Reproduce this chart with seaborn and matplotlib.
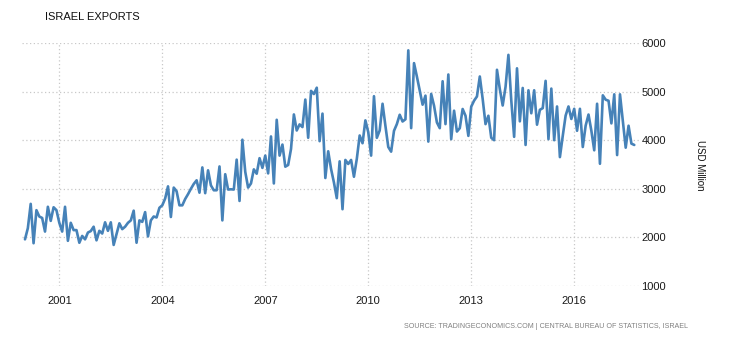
import matplotlib
matplotlib.use("Agg")
import matplotlib.pyplot as plt
import seaborn as sns
import pandas as pd
import numpy as np

# Monthly exports, USD million, Jan 2000 onwards
exports = [
    1960, 2190, 2690, 1880, 2560, 2430, 2400, 2120, 2630, 2340, 2620, 2560,
    2300, 2120, 2630, 1930, 2300, 2150, 2150, 1890, 2030, 1960, 2100, 2130,
    2220, 1940, 2135, 2080, 2310, 2135, 2310, 1845, 2070, 2290, 2170, 2220,
    2300, 2350, 2550, 1890, 2350, 2320, 2520, 2020, 2350, 2430, 2410, 2610,
    2660, 2800, 3050, 2420, 3025, 2950, 2660, 2660, 2790, 2890, 3000, 3100,
    3175, 2920, 3440, 2910, 3380, 3070, 2970, 2970, 3460, 2350, 3300, 2985,
    2990, 2985, 3600, 2750, 4010, 3350, 3025, 3110, 3400, 3310, 3630, 3430,
    3683, 3317, 4077, 3110, 4420, 3683, 3910, 3455, 3490, 3820, 4530, 4200,
    4325, 4270, 4836, 4050, 5015, 4950, 5080, 3980, 4547, 3222, 3772, 3408,
    3130, 2807, 3565, 2580, 3594, 3511, 3594, 3248, 3615, 4097, 3938, 4408,
    4166, 3683, 4905, 4049, 4200, 4750, 4296, 3861, 3764, 4193, 4331, 4524,
    4385, 4430, 5849, 4248, 5586, 5311, 5020, 4731, 4917, 3971, 4952, 4710,
    4365, 4248, 5213, 4331, 5352, 4021, 4607, 4178, 4248, 4642, 4503, 4089,
    4690, 4814, 4900, 5311, 4849, 4331, 4503, 4050, 4000, 5449, 5050, 4714,
    5100, 5756, 4819, 4069, 5479, 4388, 5075, 3902, 5027, 4554, 5027, 4319,
    4625, 4660, 5221, 4021, 5062, 4000, 4694, 3652, 4090, 4506, 4694, 4437,
    4646, 4194, 4646, 3860, 4300, 4528, 4194, 3792, 4750, 3515, 4923, 4833,
    4812, 4346, 4944, 3694, 4944, 4402, 3846, 4298, 3930, 3902,
]
start_year = 2000
x_ticks = [2001, 2004, 2007, 2010, 2013, 2016]
y_ticks = [1000, 2000, 3000, 4000, 5000, 6000]
title = "ISRAEL EXPORTS"
y_label = "USD Million"
source = "SOURCE: TRADINGECONOMICS.COM | CENTRAL BUREAU OF STATISTICS, ISRAEL"

df = pd.DataFrame({
    "year": start_year + np.arange(len(exports)) / 12.0,
    "value": exports,
})

sns.set_style("white")
plt.rcParams["font.family"] = ["Liberation Sans", "DejaVu Sans"]

fig = plt.figure(figsize=(7.3, 3.4), dpi=100)
ax = fig.add_axes([22 / 730, 1 - 286 / 340, (640 - 22) / 730, (286 - 43) / 340])

sns.lineplot(data=df, x="year", y="value", ax=ax, color="#4682b8", linewidth=1.9)

ax.set_xlim(start_year - 0.087, start_year + 215 / 12)
ax.set_ylim(1000, 6000)
ax.set_xticks(x_ticks)
ax.set_xticklabels([str(t) for t in x_ticks], fontsize=8, color="#1a1a1a")
ax.yaxis.tick_right()
ax.set_yticks(y_ticks)
ax.set_yticklabels([str(t) for t in y_ticks], fontsize=8, color="#1a1a1a")
ax.tick_params(axis="both", length=0)
ax.tick_params(axis="x", pad=7)
ax.tick_params(axis="y", pad=1)
ax.set_xlabel("")
ax.set_ylabel("")
for s in ax.spines.values():
    s.set_visible(False)
ax.grid(True, color="#c8c8c8", linestyle=(0, (1, 2)), linewidth=0.9)
ax.set_axisbelow(True)

fig.text(45 / 730, 1 - 17 / 340, title, fontsize=8, color="#111111", va="center", ha="left")
fig.text(700 / 730, 1 - 165 / 340, y_label, fontsize=7, color="#111111", rotation=270,
         va="center", ha="center")
fig.text(688 / 730, 1 - 326 / 340, source, fontsize=5.15, color="#808080", va="center", ha="right")

fig.savefig("out.png", dpi=100)
